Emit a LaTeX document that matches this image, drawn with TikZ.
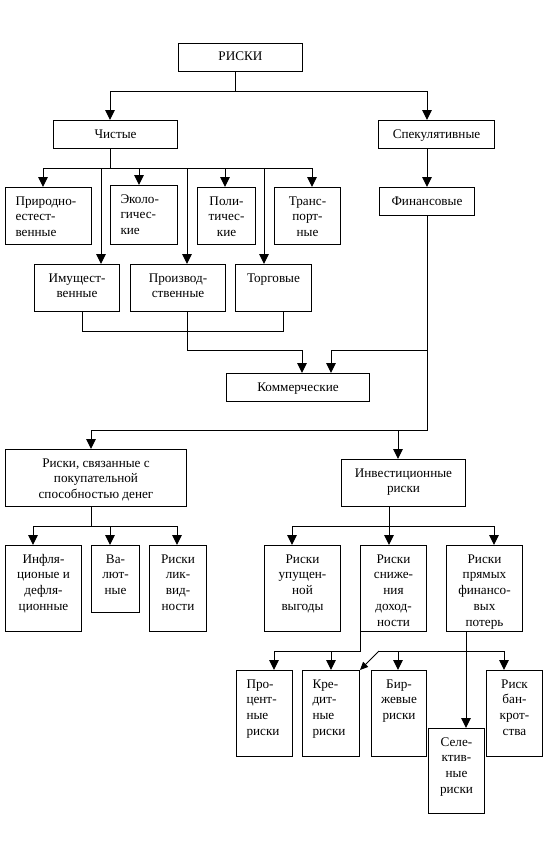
\documentclass[tikz,border=0pt]{standalone}
\usepackage{fontspec}
\setmainfont{Liberation Serif}
\usetikzlibrary{arrows.meta}
\newcommand\cen{\centering}
\newcommand\lft{\raggedright\leftskip=10pt\relax}
\newcommand\bx[7]{\node[boxst, anchor=north west] (#1) at (#2,#3)
  {\parbox[c][\dimexpr#5pt-#3pt\relax][t]{\dimexpr#4pt-#2pt\relax}{#6\rule{0pt}{17.5pt}#7\par}};}
\begin{document}
\begin{tikzpicture}[x=1pt,y=-1pt,
  boxst/.style={draw, line width=1pt, inner sep=0pt, font=\fontsize{13.2pt}{15.8pt}\selectfont},
  ln/.style={line width=1pt},
  arr/.style={-{Triangle[length=10pt,width=9.5pt]}}]
\path[fill=white,use as bounding box] (0,0) rectangle (554,843);
% boxes
\bx{riski}{178}{43}{302}{71}{\cen}{РИСКИ}
\bx{ch}{53}{120}{177}{148}{\cen}{Чистые}
\bx{sp}{378}{120}{494}{148}{\cen}{Спекулятивные}
\bx{pr}{5}{187}{91}{244}{\lft}{Природно-\\естест-\\венные}
\bx{ek}{110}{185}{177}{244}{\lft}{Эколо-\\гичес-\\кие}
\bx{po}{197}{187}{255}{244}{\cen}{Поли-\\тичес-\\кие}
\bx{tr}{274}{187}{340}{244}{\cen}{Транс-\\порт-\\ные}
\bx{im}{34}{264}{119}{311}{\cen}{Имущест-\\венные}
\bx{pz}{130}{264}{225}{311}{\cen}{Производ-\\ственные}
\bx{tg}{235}{264}{311}{311}{\cen}{Торговые}
\bx{fin}{379}{187}{474}{215}{\cen}{Финансовые}
\bx{kom}{226}{373}{369}{401}{\cen}{Коммерческие}
\bx{pok}{5}{449}{186}{506}{\cen}{Риски, связанные с\\покупательной\\способностью денег}
\bx{inv}{341}{459}{465}{506}{\cen}{Инвестиционные\\риски}
\bx{inf}{5}{545}{81}{631}{\cen}{Инфля-\\ционые и\\дефля-\\ционные}
\bx{val}{91}{545}{139}{612}{\cen}{Ва-\\лют-\\ные}
\bx{lik}{149}{545}{206}{631}{\cen}{Риски\\лик-\\вид-\\ности}
\bx{upu}{264}{545}{340}{631}{\cen}{Риски\\упущен-\\ной\\выгоды}
\bx{sni}{360}{545}{426}{631}{\cen}{Риски\\сниже-\\ния\\доход-\\ности}
\bx{pry}{446}{545}{522}{631}{\cen}{Риски\\прямых\\финансо-\\вых\\потерь}
\bx{pro}{236}{670}{292}{756}{\lft}{Про-\\цент-\\ные\\риски}
\bx{kre}{302}{670}{359}{756}{\lft}{Кре-\\дит-\\ные\\риски}
\bx{bir}{371}{670}{426}{756}{\cen}{Бир-\\жевые\\риски}
\bx{sel}{428}{728}{484}{813}{\cen}{Селе-\\ктив-\\ные\\риски}
\bx{ban}{486}{670}{542}{756}{\cen}{Риск\\бан-\\крот-\\ства}
% top bus
\coordinate (t0) at (235,91);
\coordinate (tL) at (110,91);
\coordinate (tR) at (427,91);
\draw[ln,arr] (riski.south -| t0) -- (t0) -| (tL |- ch.north);
\draw[ln,arr] (t0) -| (tR |- sp.north);
% Chistye bus
\coordinate (c0) at (110,168);
\coordinate (c43) at (43,168);
\coordinate (c101) at (101,168);
\coordinate (c139) at (139,168);
\coordinate (c187) at (187,168);
\coordinate (c225) at (225,168);
\coordinate (c264) at (264,168);
\coordinate (c312) at (312,168);
\draw[ln,arr] (ch.south -| c0) -- (c0) -| (c43 |- pr.north);
\draw[ln,arr] (c0) -| (c312 |- tr.north);
\draw[ln,arr] (c139) -- (c139 |- ek.north);
\draw[ln,arr] (c225) -- (c225 |- po.north);
\draw[ln,arr] (c101) -- (c101 |- im.north);
\draw[ln,arr] (c187) -- (c187 |- pz.north);
\draw[ln,arr] (c264) -- (c264 |- tg.north);
% row 2 to Kommercheskie
\coordinate (m82) at (82,331);
\coordinate (m283) at (283,331);
\draw[ln] (im.south -| m82) -- (m82) -- (m283) -- (tg.south -| m283);
\coordinate (k187) at (187,350);
\coordinate (k302) at (302,350);
\coordinate (k331) at (331,350);
\draw[ln,arr] (pz.south -| k187) -- (k187) -| (k302 |- kom.north);
% Spekul -> Finans
\draw[ln,arr] (sp.south -| tR) -- (tR |- fin.north);
% Finans line
\coordinate (f427) at (427,430);
\coordinate (p91) at (91,430);
\coordinate (i398) at (398,430);
\draw[ln,arr] (fin.south -| f427) -- (f427) -| (p91 |- pok.north);
\draw[ln,arr] (i398) -- (i398 |- inv.north);
\draw[ln,arr] (k331 -| f427) -| (k331 |- kom.north);
% pok bus
\coordinate (q91) at (91,526);
\coordinate (q33) at (33,526);
\coordinate (q110) at (110,526);
\coordinate (q177) at (177,526);
\draw[ln,arr] (pok.south -| q91) -- (q91) -| (q33 |- inf.north);
\draw[ln,arr] (q91) -| (q177 |- lik.north);
\draw[ln,arr] (q110) -- (q110 |- val.north);
% inv bus
\coordinate (r389) at (389,526);
\coordinate (r292) at (292,526);
\coordinate (r494) at (494,526);
\draw[ln,arr] (inv.south -| r389) -- (r389 |- sni.north);
\draw[ln,arr] (r389) -| (r292 |- upu.north);
\draw[ln,arr] (r389) -| (r494 |- pry.north);
% sni bus
\coordinate (s360) at (360,651);
\coordinate (s274) at (274,651);
\coordinate (s331) at (331,651);
\draw[ln,arr] (sni.south -| s360) -- (s360) -| (s274 |- pro.north);
\draw[ln,arr] (s331) -- (s331 |- kre.north);
% pry bus
\coordinate (u466) at (466,651);
\coordinate (u379) at (379,651);
\coordinate (u398) at (398,651);
\coordinate (u504) at (504,651);
\draw[ln,arr] (pry.south -| u466) -- (u466 |- sel.north);
\draw[ln,arr] (u379) -| (u504 |- ban.north);
\draw[ln,arr] (u398) -- (u398 |- bir.north);
\draw[ln,-{Triangle[length=8pt,width=7pt]}] (u379) -- (kre.north east);
\end{tikzpicture}
\end{document}
